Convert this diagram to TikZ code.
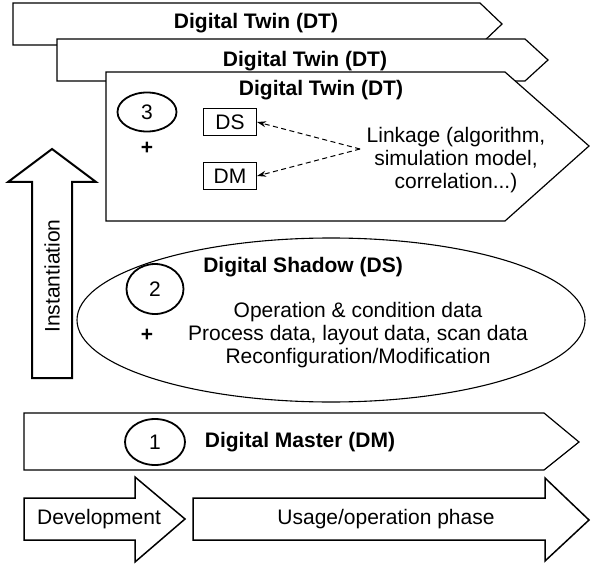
\documentclass[tikz,border=0pt]{standalone}
\usepackage{fontspec}
\setmainfont{Liberation Sans}
\usetikzlibrary{shapes.geometric,arrows.meta}
\begin{document}
\begin{tikzpicture}[x=1pt,y=-1pt,
  outline/.style={draw=black,line width=1.2pt,fill=white,line join=miter},
  bigarrow/.style={draw=black,line width=1.5pt,fill=white,line join=miter},
  lbl/.style={font=\fontsize{21}{23}\selectfont,inner sep=0pt,align=center},
  titletext/.style={font=\fontsize{21}{23}\selectfont\bfseries,inner sep=0pt},
  numbox/.style={draw=black,ellipse,line width=1.8pt,inner sep=0pt,
    font=\fontsize{21}{23}\selectfont},
  tagbox/.style={draw=black,line width=1.1pt,minimum width=53pt,minimum height=27pt,
    inner sep=0pt,font=\fontsize{21}{23}\selectfont},
  link/.style={dashed,dash pattern=on 5pt off 3.5pt,line width=1pt,
    -{Stealth[length=9pt,width=6pt]}}
]
\useasboundingbox (0,0) rectangle (591,564);

% stacked Digital Twin arrows
\draw[outline] (13,3) -- (480,3) -- (502,24) -- (480,45) -- (13,45) -- cycle;
\node[titletext] (dt1) at (256,23) {Digital Twin (DT)};
\draw[outline] (57,39) -- (525,39) -- (548,60) -- (525,81) -- (57,81) -- cycle;
\node[titletext] (dt2) at (305,61) {Digital Twin (DT)};
\draw[outline] (106,72) -- (505,72) -- (589,146) -- (505,221) -- (106,221) -- cycle;
\node[titletext] (dt3) at (321,90) {Digital Twin (DT)};

\node[numbox,minimum width=59pt,minimum height=39pt] (n3) at (147,112) {3};
\node[titletext] (p3) at (147,148) {+};
\node[tagbox] (ds) at (230,122) {DS};
\node[tagbox] (dm) at (230,176) {DM};
\node[lbl] (linkage) at (456,160) {Linkage (algorithm,\\simulation model,\\correlation...)};
\coordinate (lk) at (360,149);
\draw[link] (lk) -- (ds.east);
\draw[link] (lk) -- (dm.east);

% instantiation arrow
\draw[bigarrow,line width=2pt] (32,378) -- (32,182) -- (8,182) -- (52,149) -- (96,182)
  -- (72,182) -- (72,378) -- cycle;
\node[lbl,rotate=90] (inst) at (52,276) {Instantiation};

% digital shadow
\node[draw=black,ellipse,line width=1.1pt,minimum width=508pt,minimum height=164pt,
  inner sep=0pt] (shadow) at (331,320) {};
\node[titletext] (dstitle) at (303,267) {Digital Shadow (DS)};
\node[numbox,minimum width=57pt,minimum height=50pt] (n2) at (155,289) {2};
\node[titletext] (p2) at (147,335) {+};
\node[lbl] (dsdata) at (358,335) {Operation \& condition data\\Process data, layout data, scan data\\Reconfiguration/Modification};

% digital master
\draw[outline] (24,413) -- (544,413) -- (579,442) -- (544,470) -- (24,470) -- cycle;
\node[numbox,minimum width=60pt,minimum height=46pt] (n1) at (155,442) {1};
\node[titletext] (dmtitle) at (300,442) {Digital Master (DM)};

% life-cycle phases
\draw[bigarrow] (24,498) -- (135,498) -- (135,477) -- (185,519) -- (135,562)
  -- (135,540) -- (24,540) -- cycle;
\node[lbl] (dev) at (99,519) {Development};
\draw[bigarrow] (193,498) -- (545,498) -- (545,478) -- (589,520) -- (545,561)
  -- (545,540) -- (193,540) -- cycle;
\node[lbl] (use) at (386,519) {Usage/operation phase};
\end{tikzpicture}
\end{document}
